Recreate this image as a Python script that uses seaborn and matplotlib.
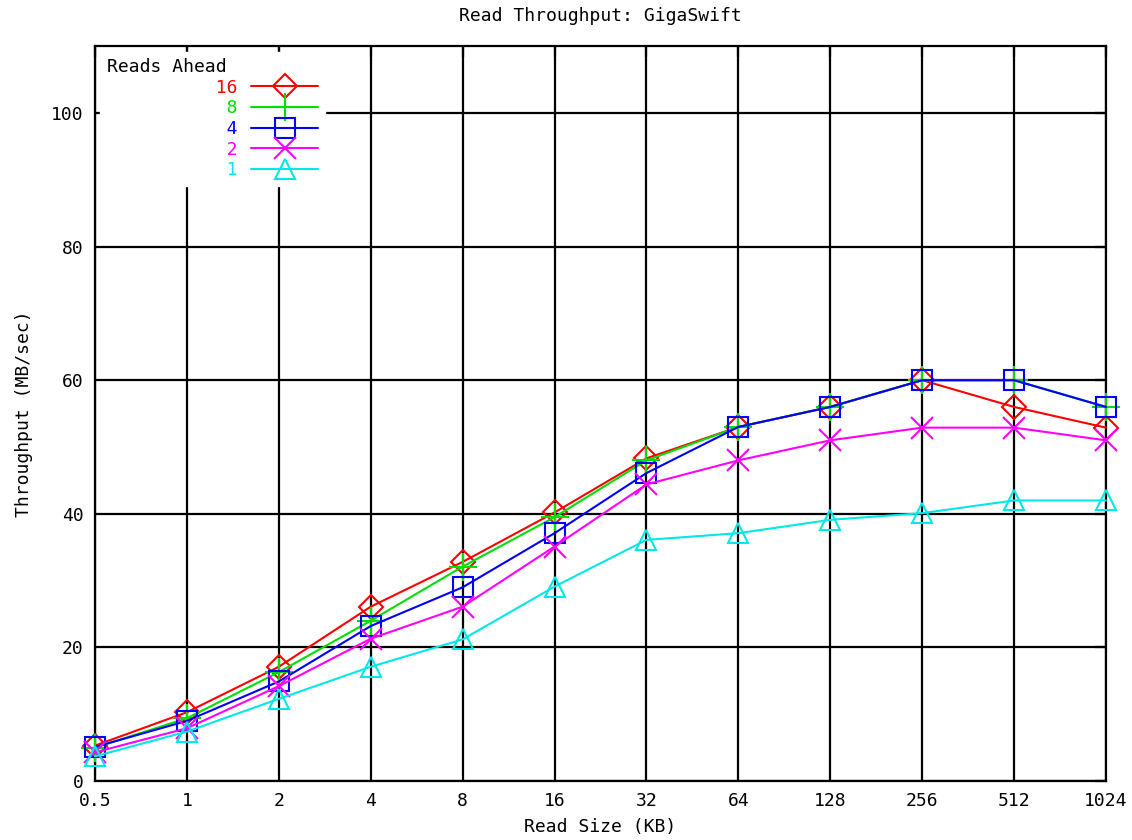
import matplotlib
matplotlib.use("Agg")
import matplotlib.pyplot as plt
import seaborn as sns
import pandas as pd

sns.set_theme(style="white")
plt.rcParams['font.family'] = ['DejaVu Sans Mono']
plt.rcParams['text.color'] = 'black'
plt.rcParams['axes.labelcolor'] = 'black'

# read sizes in KB
read_sizes = [0.5, 1, 2, 4, 8, 16, 32, 64, 128, 256, 512, 1024]
size_labels = ["0.5", "1", "2", "4", "8", "16", "32", "64", "128", "256", "512", "1024"]

# throughput (MB/sec) per number of reads ahead
ahead_16 = [5.3, 10.3, 17.1, 26.1, 32.8, 40.2, 48.3, 53, 56, 60, 56, 52.9]
ahead_8 = [5.0, 9.4, 16.3, 24.0, 32.1, 39.5, 48.0, 53, 56, 60, 60, 56]
ahead_4 = [5.1, 9.0, 14.9, 23.2, 29.0, 37.1, 46.1, 53, 56, 60, 60, 56]
ahead_2 = [4.3, 7.9, 14.2, 21.3, 26.1, 35.1, 44.4, 48.0, 51.0, 52.9, 52.9, 51.0]
ahead_1 = [3.7, 7.4, 12.3, 17.1, 21.2, 29.1, 36.1, 37.1, 39.1, 40.1, 42.0, 42.0]

series = [
    ("16", ahead_16, "#ff0000", "D", 12),
    ("8", ahead_8, "#00e000", "+", 20),
    ("4", ahead_4, "#0000ff", "s", 15),
    ("2", ahead_2, "#ff00ff", "x", 16),
    ("1", ahead_1, "#00e8e8", "^", 14),
]

fs = 13

fig = plt.figure(figsize=(11.32, 8.40), dpi=100)
ax = fig.add_axes([0.0839, 0.0702, 0.977 - 0.0839, 0.945 - 0.0702])

for label, vals, col, mk, ms in series:
    df = pd.DataFrame({"size": read_sizes, "mbps": vals})
    # pad the label so the keys sit to the right, as in the gnuplot key
    sns.lineplot(data=df, x="size", y="mbps", ax=ax, color=col, marker=mk,
                 markersize=ms, markerfacecolor="none", markeredgecolor=col,
                 markeredgewidth=1.5, linewidth=1.5, label=label.rjust(12),
                 clip_on=False, zorder=3)

ax.set_xscale("log", base=2)
ax.set_xlim(0.5, 1024)
ax.set_ylim(0, 110)
ax.set_xticks(read_sizes)
ax.set_xticklabels(size_labels)
ax.set_yticks([0, 20, 40, 60, 80, 100])
ax.minorticks_off()
ax.grid(True, color="black", linewidth=1.6)
ax.set_axisbelow(True)
for s in ax.spines.values():
    s.set_color("black")
    s.set_linewidth(1.6)
ax.tick_params(axis="both", labelsize=fs, colors="black", labelcolor="black",
               direction="in", length=8, width=1.6, top=True, right=True, pad=8)

ax.set_title("Read Throughput: GigaSwift", fontsize=fs, pad=18, color="black")
ax.set_xlabel("Read Size (KB)", fontsize=fs, labelpad=6)
ax.set_ylabel("Throughput (MB/sec)", fontsize=fs, labelpad=13)

leg = ax.legend(title="Reads Ahead", loc="upper left", bbox_to_anchor=(0.0, 1.0),
                markerfirst=False, frameon=True, fancybox=False, fontsize=fs,
                title_fontsize=fs, alignment="left", handlelength=3.75,
                handletextpad=0.75, labelspacing=0.15, borderpad=0.35,
                borderaxespad=0.3)
leg.get_frame().set_facecolor("white")
leg.get_frame().set_edgecolor("white")
leg.get_frame().set_alpha(1.0)
leg.set_zorder(5)
for txt, (label, vals, col, mk, ms) in zip(leg.get_texts(), series):
    txt.set_color(col)

fig.savefig("out.png", dpi=100, facecolor="white")
